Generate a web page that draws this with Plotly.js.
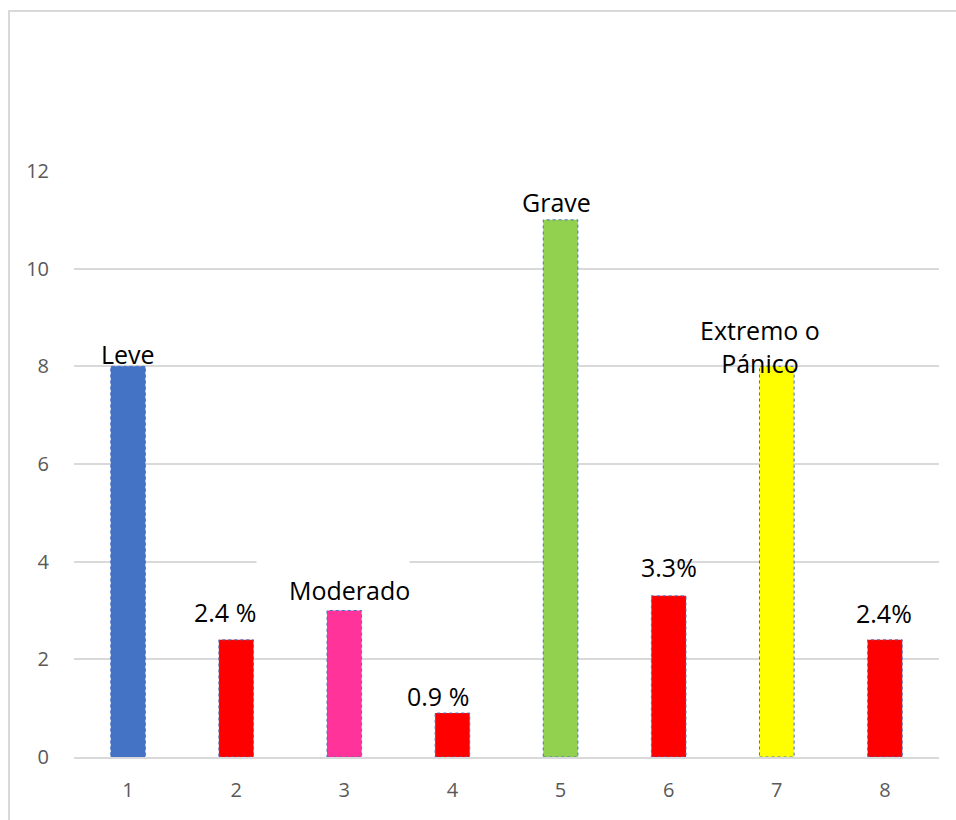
<!DOCTYPE html>
<html>
<head>
<meta charset="utf-8">
<script src="https://cdn.plot.ly/plotly-3.0.1.min.js"></script>
<style>
  html, body { margin: 0; padding: 0; background: #fff; }
  #frame { position: absolute; left: 8px; top: 10px; width: 960px; height: 830px;
           border-left: 2px solid #d9d9d9; border-top: 2px solid #d9d9d9; }
  #chart { position: absolute; left: 0; top: 0; width: 956px; height: 820px; }
</style>
</head>
<body>
<div id="frame"></div>
<div id="chart"></div>
<script>
// Data
const categories = [1, 2, 3, 4, 5, 6, 7, 8];
const values = [8, 2.4, 3, 0.9, 11, 3.3, 8, 2.4];
const labels = ["Leve", "2.4 %", "Moderado", "0.9 %", "Grave", "3.3%", "Extremo o<br>Pánico", "2.4%"];
const yTicks = [0, 2, 4, 6, 8, 10, 12];

// Styles
const colors = ["#4472C4", "#FF0000", "#FF3399", "#FF0000", "#92D050", "#FF0000", "#FFFF00", "#FF0000"];
const labelXShift = [0, -11, 5, -14, -4, 0, -17, -1];
const labelYShift = [12, 28, 21, 17, 18, 29, 20, 27];
const barWidth = 0.32;

// Label background boxes (Excel-style) that hide the gridline behind some labels
const boxCat = [3, 6, 5];
const boxGridY = [4, 4, 12];
const boxXShift = [-11, -42, 2];
const boxWidth = [152, 95, 120];
const boxFill = ["#fff", "#fff", "rgba(255,255,255,0.55)"];

const shapes = categories.map((c, i) => ({
  type: "rect", xref: "x", yref: "y",
  x0: c - barWidth / 2, x1: c + barWidth / 2, y0: 0, y1: values[i],
  line: { color: "#4472C4", width: 1, dash: "dot" }, layer: "above"
}));

const masks = boxCat.map((c, i) => ({
  x: c, y: boxGridY[i], xref: "x", yref: "y",
  text: " ", showarrow: false, xshift: boxXShift[i],
  width: boxWidth[i], height: 8, borderpad: 0,
  bgcolor: boxFill[i], font: { size: 4 }
}));

const annotations = masks.concat(categories.map((c, i) => ({
  x: c, y: values[i], xref: "x", yref: "y",
  text: labels[i], showarrow: false,
  xshift: labelXShift[i], yshift: labelYShift[i],
  yanchor: "middle",
  font: { family: "Open Sans, sans-serif", size: 25, color: "#000" },
  borderpad: 0
})));

const trace = {
  type: "bar", x: categories, y: values, width: barWidth,
  marker: { color: colors, line: { width: 0 } },
  hoverinfo: "skip"
};

const layout = {
  width: 956, height: 820,
  margin: { l: 74, r: 17, t: 171, b: 63 },
  paper_bgcolor: "rgba(0,0,0,0)", plot_bgcolor: "rgba(0,0,0,0)",
  showlegend: false,
  font: { family: "Open Sans, sans-serif" },
  xaxis: {
    range: [0.5, 8.5], tickvals: categories, ticktext: categories.map(String),
    showgrid: false, zeroline: false, showline: true, linecolor: "#d9d9d9", linewidth: 2,
    ticks: "", ticklabelstandoff: 14,
    tickfont: { size: 20, color: "#595959" }, fixedrange: true
  },
  yaxis: {
    range: [0, 12], tickvals: yTicks,
    showgrid: true, gridcolor: "#d9d9d9", gridwidth: 2, zeroline: false,
    ticks: "", ticklabelstandoff: 24,
    tickfont: { size: 20, color: "#595959" }, fixedrange: true
  },
  shapes: shapes,
  annotations: annotations
};

Plotly.newPlot("chart", [trace], layout, { displayModeBar: false, staticPlot: true });
</script>
</body>
</html>
